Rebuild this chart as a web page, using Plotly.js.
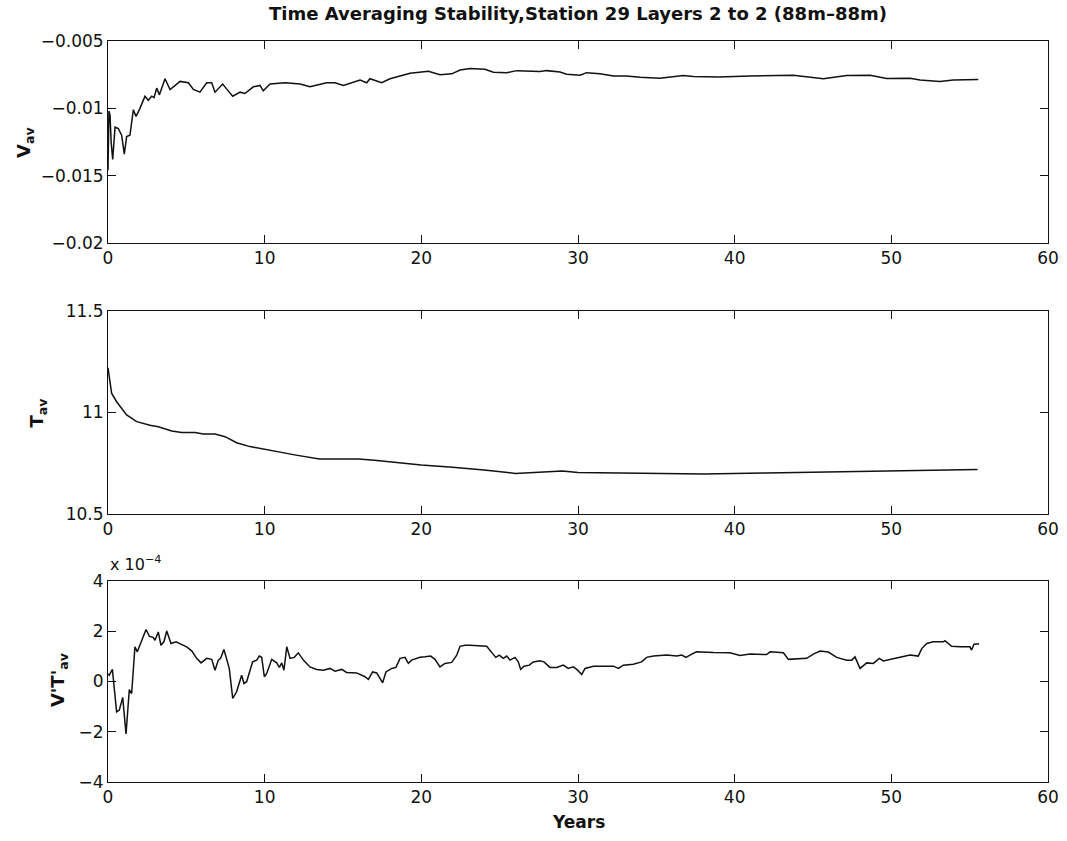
<!DOCTYPE html>
<html>
<head>
<meta charset="utf-8">
<script src="https://cdn.plot.ly/plotly-3.0.1.min.js"></script>
<style>
  html, body { margin: 0; padding: 0; background: #fff; }
  #chart { width: 1067px; height: 841px; }
</style>
</head>
<body>
<div id="chart"></div>
<script>
// Running time averages at station 29, layer 2 (88 m)

// Time-averaged velocity V_av
const vYears = [0, 0.06, 0.13, 0.2, 0.3, 0.45, 0.66, 0.87, 1.04, 1.19, 1.40, 1.62, 1.79, 2.04, 2.36, 2.57, 2.79, 2.94,
  3.11, 3.28, 3.64, 3.96, 4.60, 5.13, 5.45, 5.87, 6.30, 6.62, 6.83, 7.32, 7.53, 7.96, 8.43, 8.74, 9.28, 9.70, 9.91,
  10.34, 11.30, 12.26, 12.89, 13.96, 14.49, 15.02, 16.09, 16.51, 16.72, 17.47, 18.0, 18.64, 19.28, 20.45, 21.19,
  21.94, 22.47, 23.11, 24.06, 24.60, 25.45, 26.09, 27.57, 28.0, 28.85, 29.28, 30.13, 30.55, 31.40, 32.26, 33.1,
  33.96, 35.23, 36.72, 37.36, 38.96, 40.98, 43.74, 45.66, 47.15, 48.64, 49.7, 51.19, 51.83, 53.1, 53.96, 55.55];
const vAvg = [-0.0146, -0.0102, -0.0105, -0.0125, -0.0138, -0.0114, -0.0115, -0.0120, -0.0134, -0.0121, -0.0120,
  -0.0101, -0.0106, -0.0100, -0.0091, -0.0094, -0.0091, -0.0092, -0.0085, -0.0090, -0.0078, -0.0086, -0.0080,
  -0.0081, -0.0086, -0.0088, -0.0081, -0.0081, -0.0088, -0.0082, -0.0085, -0.0091, -0.0088, -0.0089, -0.0084,
  -0.0083, -0.0087, -0.0082, -0.0081, -0.0082, -0.0084, -0.0081, -0.0081, -0.0083, -0.0079, -0.0081, -0.0078,
  -0.0081, -0.0078, -0.0076, -0.0074, -0.00725, -0.0075, -0.00744, -0.00715, -0.00705, -0.0071, -0.00732,
  -0.00735, -0.0072, -0.00727, -0.0072, -0.0073, -0.00747, -0.00754, -0.00735, -0.00744, -0.00759, -0.00759,
  -0.00769, -0.00777, -0.00757, -0.00764, -0.00768, -0.00759, -0.00754, -0.00781, -0.00757, -0.00754, -0.00779,
  -0.00777, -0.00789, -0.00801, -0.00789, -0.00786];

// Time-averaged temperature T_av
const tYears = [0, 0.23, 0.55, 1.19, 1.83, 2.68, 3.21, 4.07, 4.70, 5.55, 6.08, 6.83, 7.47, 8.21, 9.06, 9.92, 10.5,
  12, 13.5, 16, 17, 20, 22, 24, 26, 28, 29, 30, 34, 38, 42, 46, 50, 55.5];
const tAvg = [11.22, 11.095, 11.053, 10.988, 10.955, 10.937, 10.930, 10.909, 10.902, 10.901, 10.894, 10.894, 10.881,
  10.851, 10.832, 10.819, 10.812, 10.79, 10.771, 10.771, 10.765, 10.741, 10.73, 10.717, 10.70, 10.706, 10.712,
  10.704, 10.702, 10.697, 10.702, 10.707, 10.714, 10.719];

// Time-averaged eddy flux v'T', in units of 1e-4
const vtYears = [0, 0.08, 0.28, 0.55, 0.72, 0.94, 1.15, 1.36, 1.51, 1.72, 1.87, 2.15, 2.43, 2.64, 2.89, 3.0, 3.21,
  3.38, 3.57, 3.75, 4.02, 4.34, 4.70, 5.02, 5.34, 5.66, 5.94, 6.30, 6.62, 6.83, 7.04, 7.19, 7.40, 7.74, 7.96, 8.21,
  8.53, 8.68, 8.85, 9.23, 9.49, 9.66, 9.81, 9.98, 10.13, 10.45, 10.77, 10.94, 11.09, 11.23, 11.41, 11.62, 11.89,
  12.15, 12.47, 12.89, 13.32, 13.75, 14.17, 14.49, 14.92, 15.23, 15.87, 16.40, 16.62, 16.89, 17.15, 17.53, 17.74,
  18.11, 18.38, 18.64, 18.96, 19.17, 19.38, 19.91, 20.23, 20.60, 20.87, 21.19, 21.51, 21.94, 22.26, 22.47, 22.79,
  23.11, 24.17, 24.49, 24.75, 24.98, 25.23, 25.45, 25.66, 25.98, 26.19, 26.34, 26.55, 26.89, 27.15, 27.57, 27.83,
  28.21, 28.64, 29.06, 29.38, 29.70, 29.92, 30.24, 30.45, 30.98, 31.83, 32.26, 32.58, 32.89, 33.53, 34.06, 34.38,
  34.81, 35.66, 36.30, 36.62, 36.89, 37.26, 37.57, 38.64, 39.70, 40.34, 40.98, 42.04, 42.26, 43.11, 43.43, 44.60,
  45.02, 45.45, 45.98, 46.51, 47.15, 47.47, 47.68, 48.0, 48.43, 48.85, 49.23, 49.49, 50.13, 50.55, 51.19, 51.72,
  51.94, 52.26, 52.68, 53.32, 53.42, 53.85, 54.38, 55.02, 55.12, 55.28, 55.60];
const vtAvg = [0.30, 0.25, 0.48, -1.21, -1.14, -0.64, -2.09, -0.32, -0.48, 1.38, 1.18, 1.64, 2.07, 1.80, 1.75, 1.64,
  1.97, 1.44, 1.58, 2.01, 1.51, 1.58, 1.48, 1.38, 1.22, 0.92, 0.74, 0.92, 0.88, 0.45, 0.85, 0.92, 1.27, 0.52, -0.67,
  -0.41, 0.25, -0.08, -0.01, 0.78, 0.85, 1.01, 0.96, 0.19, 0.32, 0.88, 0.74, 0.56, 0.74, 0.45, 1.38, 0.92, 0.96,
  1.14, 0.85, 0.58, 0.48, 0.45, 0.52, 0.41, 0.48, 0.36, 0.34, 0.19, 0.08, 0.38, 0.34, -0.05, 0.38, 0.52, 0.56, 0.92,
  0.96, 0.72, 0.85, 0.96, 0.98, 1.01, 0.88, 0.58, 0.72, 0.76, 1.05, 1.40, 1.44, 1.44, 1.40, 1.18, 0.96, 1.05, 0.92,
  1.01, 0.85, 0.96, 0.78, 0.48, 0.61, 0.65, 0.78, 0.82, 0.78, 0.56, 0.56, 0.65, 0.52, 0.58, 0.48, 0.28, 0.52, 0.61,
  0.61, 0.61, 0.52, 0.65, 0.69, 0.78, 0.96, 1.01, 1.05, 1.01, 1.05, 0.96, 1.09, 1.18, 1.15, 1.14, 1.03, 1.09, 1.07,
  1.18, 1.14, 0.88, 0.92, 1.09, 1.21, 1.17, 0.96, 0.85, 0.85, 0.98, 0.52, 0.74, 0.72, 0.92, 0.82, 0.92, 0.96, 1.05,
  1.01, 1.31, 1.51, 1.58, 1.58, 1.62, 1.40, 1.38, 1.38, 1.25, 1.48, 1.50];

// Axis ticks
const xTicks = [0, 10, 20, 30, 40, 50, 60];
const vTicks = [-0.02, -0.015, -0.01, -0.005];
const vTickText = ['\u22120.02', '\u22120.015', '\u22120.01', '\u22120.005'];
const tTicks = [10.5, 11, 11.5];
const tTickText = ['10.5', '11', '11.5'];
const vtTicks = [-4, -2, 0, 2, 4];
const vtTickText = ['\u22124', '\u22122', '0', '2', '4'];

const FONT = 'DejaVu Sans, Liberation Sans, Arial, sans-serif';
const INK = '#111';

function lineTrace(x, y, xa, ya) {
  return {
    x: x, y: y, xaxis: xa, yaxis: ya,
    type: 'scatter', mode: 'lines',
    line: { color: INK, width: 1.5 },
    hoverinfo: 'x+y', showlegend: false
  };
}

function baseAxis(extra) {
  return Object.assign({
    ticks: 'inside', ticklen: 8, tickwidth: 1, tickcolor: INK,
    mirror: 'ticks', showline: true, linecolor: INK, linewidth: 1,
    showgrid: false, zeroline: false,
    tickfont: { family: FONT, size: 17, color: INK }
  }, extra);
}

function xAxis(anchor) {
  return baseAxis({ range: [0, 60], tickmode: 'array', tickvals: xTicks, anchor: anchor, domain: [0, 1] });
}

const data = [
  lineTrace(vYears, vAvg, 'x', 'y'),
  lineTrace(tYears, tAvg, 'x2', 'y2'),
  lineTrace(vtYears, vtAvg, 'x3', 'y3')
];

const labelFont = { family: FONT, size: 18, color: INK };

const layout = {
  width: 1067, height: 841, autosize: false,
  margin: { l: 108, r: 19, t: 41, b: 59 },
  paper_bgcolor: '#fff', plot_bgcolor: '#fff',
  showlegend: false,
  title: {
    text: '<b>Time Averaging Stability,Station 29 Layers 2 to 2 (88m\u201388m)</b>',
    font: { family: FONT, size: 18, color: INK },
    xref: 'paper', x: 0.5, xanchor: 'center',
    yref: 'container', y: 0.9834, yanchor: 'middle'
  },
  xaxis: xAxis('y'),
  xaxis2: xAxis('y2'),
  xaxis3: xAxis('y3'),
  yaxis: baseAxis({ domain: [0.7274, 1], range: [-0.02, -0.005], tickmode: 'array',
                    tickvals: vTicks, ticktext: vTickText, anchor: 'x' }),
  yaxis2: baseAxis({ domain: [0.3617, 0.6356], range: [10.5, 11.5], tickmode: 'array',
                     tickvals: tTicks, ticktext: tTickText, anchor: 'x2' }),
  yaxis3: baseAxis({ domain: [0, 0.2713], range: [-4, 4], tickmode: 'array',
                     tickvals: vtTicks, ticktext: vtTickText, anchor: 'x3' }),
  annotations: [
    { text: '<b>V<sub>av</sub></b>', textangle: -90, showarrow: false,
      xref: 'paper', yref: 'paper', x: -0.0883, y: 0.8637, xanchor: 'center', yanchor: 'middle',
      font: labelFont },
    { text: '<b>T<sub>av</sub></b>', textangle: -90, showarrow: false,
      xref: 'paper', yref: 'paper', x: -0.074, y: 0.4993, xanchor: 'center', yanchor: 'middle',
      font: labelFont },
    { text: "<b>V'T'<sub>av</sub></b>", textangle: -90, showarrow: false,
      xref: 'paper', yref: 'paper', x: -0.052, y: 0.1377, xanchor: 'center', yanchor: 'middle',
      font: labelFont },
    { text: 'x 10<sup>\u22124</sup>', showarrow: false,
      xref: 'paper', yref: 'paper', x: 0, y: 0.2780, xanchor: 'left', yanchor: 'bottom',
      font: { family: FONT, size: 16, color: INK } },
    { text: '<b>Years</b>', showarrow: false,
      xref: 'paper', yref: 'paper', x: 0.5, y: -0.0540, xanchor: 'center', yanchor: 'middle',
      font: { family: FONT, size: 17, color: INK } }
  ]
};

Plotly.newPlot('chart', data, layout, { displayModeBar: false, staticPlot: true });
</script>
</body>
</html>
